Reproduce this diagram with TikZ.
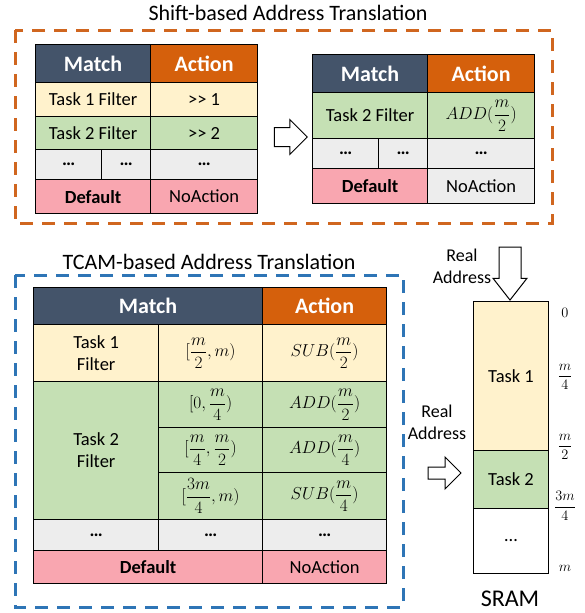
\documentclass[tikz,border=0pt]{standalone}
\usepackage{fontspec}
\setmainfont{Carlito}
\usepackage{amsmath}
\usepackage{xcolor}
\usepackage{tikz}
\usetikzlibrary{shapes.arrows}

\definecolor{navy}{HTML}{44546A}
\definecolor{actorange}{HTML}{D5600C}
\definecolor{dashorange}{HTML}{D0661F}
\definecolor{dashblue}{HTML}{2E75B6}
\definecolor{taskyellow}{HTML}{FFF2CC}
\definecolor{taskgreen}{HTML}{C5E0B4}
\definecolor{restgray}{HTML}{EDEDED}
\definecolor{defpink}{HTML}{F9A6B0}

\begin{document}
\begin{tikzpicture}[x=1pt, y=-1pt,
        cell/.style={draw, line width=1.2pt, anchor=north west, inner sep=0, align=center, font=\fontsize{18.5}{22}\selectfont},
        head/.style={cell, text=white, font=\fontsize{22}{25}\selectfont\bfseries},
        hollow/.style={single arrow, draw, line width=1pt, fill=white, minimum width=0},
        title/.style={font=\fontsize{22}{26}\selectfont}]
        \useasboundingbox (0,0) rectangle (585,613);

        % Shift-based
        \node (shifttitle) [title] at (288,13) {Shift-based Address Translation};
        \draw [dashorange, line width=3pt, dash pattern=on 13pt off 9pt] (15,30) rectangle (552,223);

        \node (t1match) [head, fill=navy, minimum width=115, minimum height=38] at (35,44) {Match};
        \node (t1action) [head, fill=actorange, minimum width=107, minimum height=38] at (150,44) {Action};
        \node (t1task1) [cell, fill=taskyellow, minimum width=115, minimum height=34] at (35,82) {Task 1 Filter};
        \node (t1shift1) [cell, fill=taskyellow, minimum width=107, minimum height=34] at (150,82) {>{}> 1};
        \node (t1task2) [cell, fill=taskgreen, minimum width=115, minimum height=33] at (35,116) {Task 2 Filter};
        \node (t1shift2) [cell, fill=taskgreen, minimum width=107, minimum height=33] at (150,116) {>{}> 2};
        \node (t1dotsa) [cell, fill=restgray, minimum width=66, minimum height=30] at (35,149) {\textbf{…}};
        \node (t1dotsb) [cell, fill=restgray, minimum width=49, minimum height=30] at (101,149) {\textbf{…}};
        \node (t1dotsc) [cell, fill=restgray, minimum width=107, minimum height=30] at (150,149) {\textbf{…}};
        \node (t1default) [cell, fill=defpink, minimum width=115, minimum height=34] at (35,179) {\textbf{Default}};
        \node (t1noact) [cell, fill=defpink, minimum width=107, minimum height=34] at (150,179) {NoAction};

        \node (shiftarrow) [hollow, inner xsep=0, inner ysep=9pt, single arrow head extend=8pt, minimum height=33] at (286,137) {};

        \node (t2match) [head, fill=navy, minimum width=115, minimum height=38] at (312,54) {Match};
        \node (t2action) [head, fill=actorange, minimum width=107, minimum height=38] at (427,54) {Action};
        \node (t2task2) [cell, fill=taskgreen, minimum width=115, minimum height=46] at (312,92) {Task 2 Filter};
        \node (t2add) [cell, fill=taskgreen, minimum width=107, minimum height=46] at (427,92) {$ADD(\dfrac{m}{2})$};
        \node (t2dotsa) [cell, fill=restgray, minimum width=66, minimum height=30] at (312,138) {\textbf{…}};
        \node (t2dotsb) [cell, fill=restgray, minimum width=49, minimum height=30] at (378,138) {\textbf{…}};
        \node (t2dotsc) [cell, fill=restgray, minimum width=107, minimum height=30] at (427,138) {\textbf{…}};
        \node (t2default) [cell, fill=defpink, minimum width=115, minimum height=35] at (312,168) {\textbf{Default}};
        \node (t2noact) [cell, fill=restgray, minimum width=107, minimum height=35] at (427,168) {NoAction};

        % TCAM-based
        \node (tcamtitle) [title] at (209,262) {TCAM-based Address Translation};
        \draw [dashblue, line width=3pt, dash pattern=on 13pt off 9pt] (15,275) rectangle (403,607);

        \node (t3match) [head, fill=navy, minimum width=229, minimum height=37] at (33,287) {Match};
        \node (t3action) [head, fill=actorange, minimum width=124, minimum height=37] at (262,287) {Action};
        \node (t3task1) [cell, fill=taskyellow, minimum width=125, minimum height=57] at (33,324) {Task 1\\Filter};
        \node (t3range1) [cell, fill=taskyellow, minimum width=104, minimum height=57] at (158,324) {$[\dfrac{m}{2},m)$};
        \node (t3sub1) [cell, fill=taskyellow, minimum width=124, minimum height=57] at (262,324) {$SUB(\dfrac{m}{2})$};
        \node (t3task2) [cell, fill=taskgreen, minimum width=125, minimum height=138] at (33,381) {Task 2\\Filter};
        \node (t3range2) [cell, fill=taskgreen, minimum width=104, minimum height=46] at (158,381) {$[0,\dfrac{m}{4})$};
        \node (t3add2) [cell, fill=taskgreen, minimum width=124, minimum height=46] at (262,381) {$ADD(\dfrac{m}{2})$};
        \node (t3range3) [cell, fill=taskgreen, minimum width=104, minimum height=45] at (158,427) {$[\dfrac{m}{4},\dfrac{m}{2})$};
        \node (t3add3) [cell, fill=taskgreen, minimum width=124, minimum height=45] at (262,427) {$ADD(\dfrac{m}{4})$};
        \node (t3range4) [cell, fill=taskgreen, minimum width=104, minimum height=47] at (158,472) {$[\dfrac{3m}{4},m)$};
        \node (t3sub4) [cell, fill=taskgreen, minimum width=124, minimum height=47] at (262,472) {$SUB(\dfrac{m}{4})$};
        \node (t3dotsa) [cell, fill=restgray, minimum width=125, minimum height=31] at (33,519) {\textbf{…}};
        \node (t3dotsb) [cell, fill=restgray, minimum width=104, minimum height=31] at (158,519) {\textbf{…}};
        \node (t3dotsc) [cell, fill=restgray, minimum width=124, minimum height=31] at (262,519) {\textbf{…}};
        \node (t3default) [cell, fill=defpink, minimum width=229, minimum height=33] at (33,550) {\textbf{Default}};
        \node (t3noact) [cell, fill=defpink, minimum width=124, minimum height=33] at (262,550) {NoAction};

        % SRAM
        \node (sramtask1) [cell, line width=1pt, fill=taskyellow, minimum width=75, minimum height=149] at (473,301) {Task 1};
        \node (sramtask2) [cell, line width=1pt, fill=taskgreen, minimum width=75, minimum height=58] at (473,450) {Task 2};
        \node (sramrest) [cell, line width=1pt, fill=white, minimum width=75, minimum height=65] at (473,508) {…};
        \node (sram) [font=\fontsize{24}{28}\selectfont] at (510,599) {SRAM};

        \node (addr0) [font=\fontsize{15}{16}\selectfont] at (565,313) {$0$};
        \node (addr1) [font=\fontsize{15}{16}\selectfont] at (565,377) {$\dfrac{m}{4}$};
        \node (addr2) [font=\fontsize{15}{16}\selectfont] at (565,447) {$\dfrac{m}{2}$};
        \node (addr3) [font=\fontsize{15}{16}\selectfont] at (565,506) {$\dfrac{3m}{4}$};
        \node (addr4) [font=\fontsize{15}{16}\selectfont] at (565,568) {$m$};

        \node (downarrow) [hollow, shape border rotate=270, inner xsep=10.5pt, inner ysep=0, single arrow head extend=6pt, single arrow tip angle=76, minimum height=53] at (510,266.5) {};
        \node (downlabel) [font=\fontsize{18}{22}\selectfont, align=center] at (462,266) {Real\\Address};
        \node (rightarrow) [hollow, inner xsep=0, inner ysep=5.5pt, single arrow head extend=10pt, minimum height=33] at (441.5,473) {};
        \node (rightlabel) [font=\fontsize{18}{22}\selectfont, align=center] at (437,422) {Real\\Address};

    \end{tikzpicture}
\end{document}
